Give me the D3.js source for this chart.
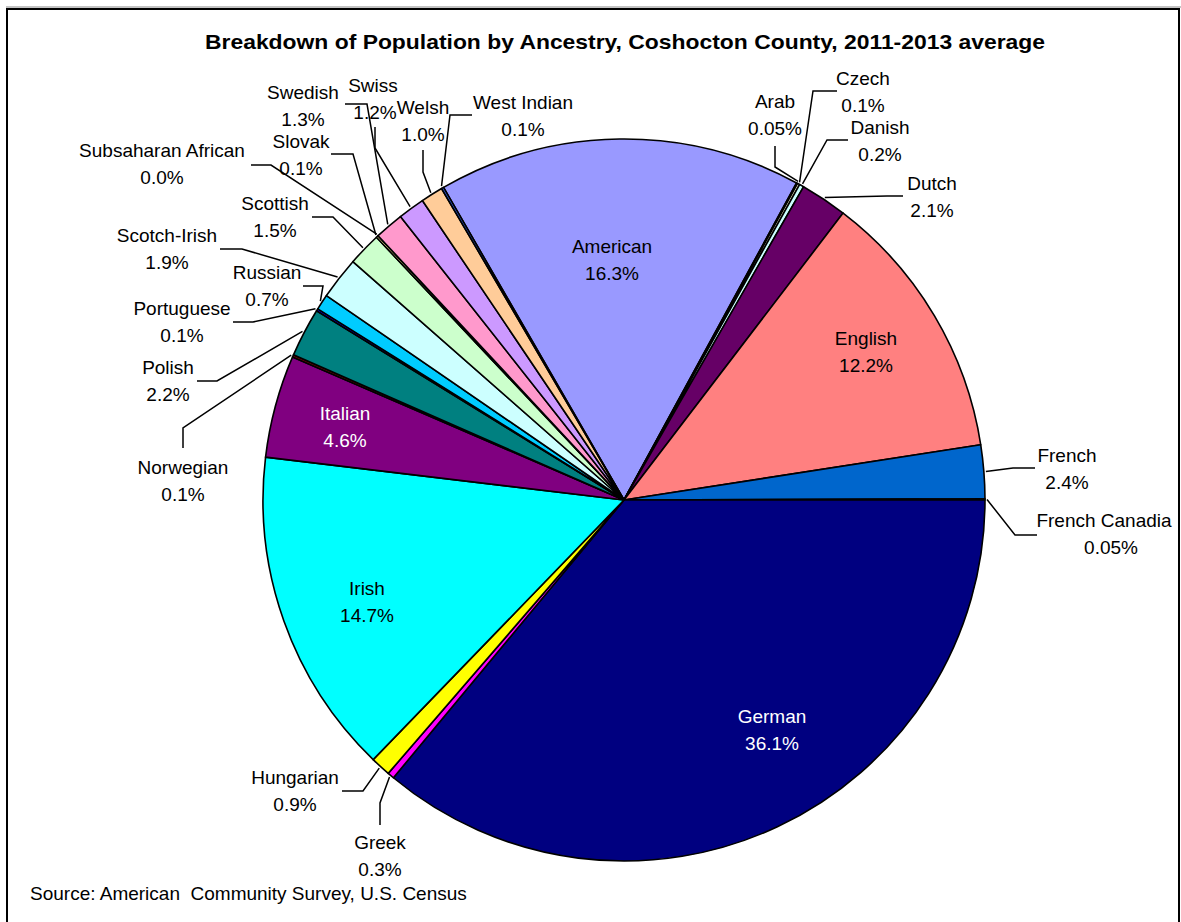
<!DOCTYPE html>
<html>
<head>
<meta charset="utf-8">
<script src="https://cdn.jsdelivr.net/npm/d3@7"></script>
<style>
  body { margin: 0; background: #fff; }
  svg { display: block; font-family: "Liberation Sans", Arial, sans-serif; }
</style>
</head>
<body>
<div id="chart"></div>
<script>
// values (percent of population)
const categories = ["American", "Arab", "Czech", "Danish", "Dutch", "English", "French",
  "French Canadia", "German", "Greek", "Hungarian", "Irish", "Italian", "Norwegian", "Polish",
  "Portuguese", "Russian", "Scotch-Irish", "Scottish", "Slovak", "Subsaharan African",
  "Swedish", "Swiss", "Welsh", "West Indian"];
const shares = [16.3, 0.05, 0.1, 0.2, 2.1, 12.2, 2.4, 0.05, 36.1, 0.3, 0.9, 14.7, 4.6, 0.1, 2.2,
  0.1, 0.7, 1.9, 1.5, 0.1, 0.0, 1.3, 1.2, 1.0, 0.1];

const colors = ["#9999FF", "#993366", "#FFFFCC", "#CCFFFF", "#660066", "#FF8080", "#0066CC",
  "#CCCCFF", "#000080", "#FF00FF", "#FFFF00", "#00FFFF", "#800080", "#800000", "#008080",
  "#0000FF", "#00CCFF", "#CCFFFF", "#CCFFCC", "#FFFF99", "#99CCFF", "#FF99CC", "#CC99FF",
  "#FFCC99", "#3366FF"];

// label placement: [x, y of first line] ; leader = elbow points after the arc edge
const layout = {
  "American":           { t: [612, 246], fill: "#000" },
  "Arab":               { t: [775, 101], lead: [[775, 167], [775, 146]] },
  "Czech":              { t: [863, 78],  lead: [[813, 91], [837, 91]] },
  "Danish":             { t: [880, 127], lead: [[827, 140], [848, 140]] },
  "Dutch":              { t: [932, 183], lead: [[887, 196], [903, 196]] },
  "English":            { t: [866, 338], fill: "#000" },
  "French":             { t: [1067, 455], lead: [[1013, 468], [1035, 468]] },
  "French Canadia":     { t: [1104, 520], t2: 1111, lead: [[1015, 535], [1037, 535]] },
  "German":             { t: [772, 716], fill: "#fff" },
  "Greek":              { t: [380, 842], lead: [[380, 803], [380, 825]] },
  "Hungarian":          { t: [295, 777], lead: [[363, 791], [342, 791]] },
  "Irish":              { t: [367, 588], fill: "#000" },
  "Italian":            { t: [345, 413], fill: "#fff" },
  "Norwegian":          { t: [183, 467], lead: [[183, 428], [183, 448]] },
  "Polish":             { t: [168, 367], lead: [[217, 381], [197, 381]] },
  "Portuguese":         { t: [182, 308], lead: [[253, 322], [233, 322]] },
  "Russian":            { t: [267, 272], lead: [[323, 286], [303, 286]] },
  "Scotch-Irish":       { t: [167, 235], lead: [[242, 249], [220, 249]] },
  "Scottish":           { t: [275, 203], lead: [[333, 217], [312, 217]] },
  "Slovak":             { t: [301, 141], lead: [[353, 154], [331, 154]] },
  "Subsaharan African": { t: [162, 150], lead: [[271, 165], [251, 165]] },
  "Swedish":            { t: [303, 92],  lead: [[367, 104], [345, 104]] },
  "Swiss":              { t: [373, 85],  t2: 375, lead: [[375, 148], [375, 127]] },
  "Welsh":              { t: [423, 107], lead: [[423, 172], [423, 150]] },
  "West Indian":        { t: [523, 102], lead: [[450, 115], [472, 115]] }
};

const width = 1181, height = 922;
const cx = 624, cy = 500, r = 361;
const lineGap = 27;
const labelSize = 19;

const data = categories.map((c, i) => ({ name: c, value: shares[i], color: colors[i] }));
const fmt = v => (v > 0 && v < 0.1 ? v.toFixed(2) : v.toFixed(1)) + "%";

const svg = d3.select("#chart").append("svg")
  .attr("width", width)
  .attr("height", height);

// chart frame
svg.append("line")
  .attr("x1", 6).attr("x2", 1181).attr("y1", 7).attr("y2", 7)
  .attr("stroke", "#888").attr("stroke-width", 1);
svg.append("rect")
  .attr("x", 7).attr("y", 9)
  .attr("width", 1172).attr("height", 1000)
  .attr("fill", "none").attr("stroke", "#000").attr("stroke-width", 2);

svg.append("text")
  .attr("x", 625).attr("y", 42).attr("dy", "0.35em")
  .attr("text-anchor", "middle")
  .attr("font-weight", "bold").attr("font-size", 21)
  .attr("textLength", 840).attr("lengthAdjust", "spacingAndGlyphs")
  .text("Breakdown of Population by Ancestry, Coshocton County, 2011-2013 average");

const toRad = Math.PI / 180;
const pie = d3.pie()
  .sort(null)
  .value(d => d.value)
  .startAngle(-30 * toRad)
  .endAngle(330 * toRad);

const arc = d3.arc().innerRadius(0).outerRadius(r);
const arcs = pie(data);

const g = svg.append("g").attr("transform", "translate(" + cx + "," + cy + ")");

g.selectAll("path")
  .data(arcs)
  .enter()
  .append("path")
    .attr("d", arc)
    .attr("fill", d => d.data.color)
    .attr("stroke", "#000")
    .attr("stroke-width", 1.6)
    .attr("stroke-linejoin", "round");

// leader lines from the slice edge
const edge = d => {
  const a = (d.startAngle + d.endAngle) / 2;
  return [cx + (r + 2) * Math.sin(a), cy - (r + 2) * Math.cos(a)];
};

arcs.forEach(d => {
  const L = layout[d.data.name];
  if (!L.lead) return;
  const pts = [edge(d)].concat(L.lead);
  svg.append("path")
    .attr("d", d3.line()(pts))
    .attr("fill", "none")
    .attr("stroke", "#000")
    .attr("stroke-width", 1.5);
});

// labels
arcs.forEach(d => {
  const L = layout[d.data.name];
  const t = svg.append("text")
    .attr("text-anchor", "middle")
    .attr("font-size", labelSize)
    .attr("fill", L.fill || "#000");
  t.append("tspan")
    .attr("x", L.t[0]).attr("y", L.t[1]).attr("dy", "0.35em")
    .text(d.data.name);
  t.append("tspan")
    .attr("x", L.t2 || L.t[0]).attr("y", L.t[1] + lineGap).attr("dy", "0.35em")
    .text(fmt(d.data.value));
});

svg.append("text")
  .attr("x", 30).attr("y", 893).attr("dy", "0.35em")
  .attr("font-size", labelSize)
  .text("Source: American  Community Survey, U.S. Census")
  .style("white-space", "pre");
</script>
</body>
</html>
